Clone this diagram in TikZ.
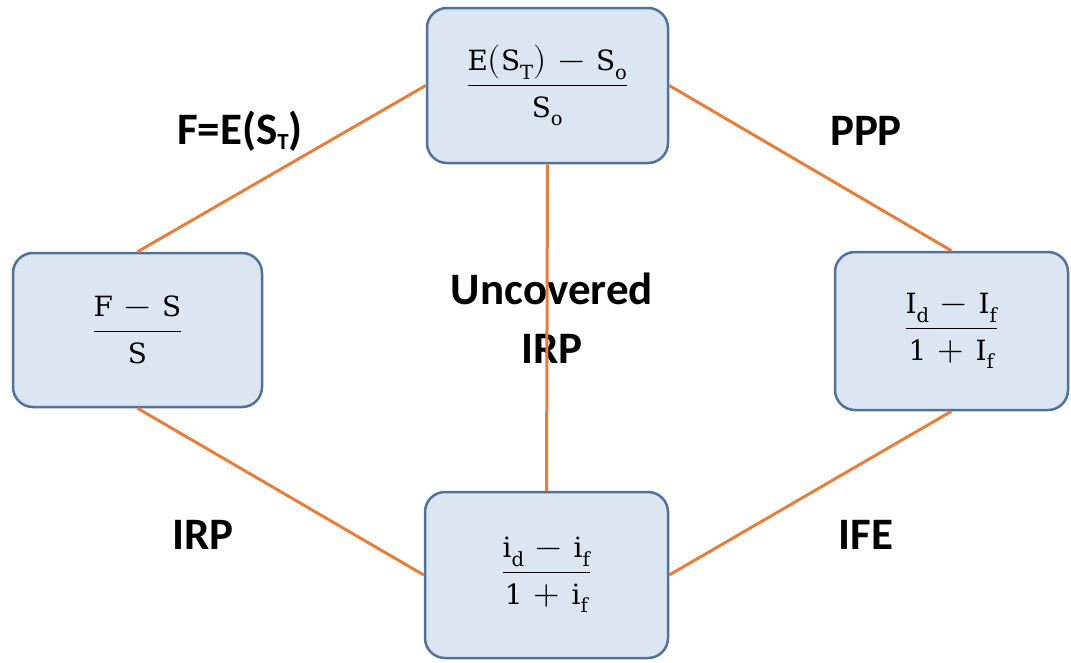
\documentclass[tikz,border=0pt]{standalone}
\usepackage{fontspec}
\usepackage{unicode-math}
\setmathfont{Latin Modern Math}
\setmathrm{DejaVu Serif}[Scale=0.82]
\newfontfamily\lab{Carlito}
\definecolor{boxfill}{HTML}{DCE6F2}
\definecolor{boxline}{HTML}{51729A}
\definecolor{link}{HTML}{E47F3C}
\newcommand\myfrac[2]{$\medmuskip=6mu\displaystyle\frac{\mathrm{#1}}{\mathrm{#2}}$}
\tikzset{
  mbox/.style={draw=boxline, fill=boxfill, line width=2.5pt, rounded corners=20pt, inner sep=0pt,
    font=\fontsize{34}{40}\selectfont},
  lbl/.style={font=\lab\bfseries\fontsize{45}{59}\selectfont, text=black, align=center, inner sep=0pt},
  conn/.style={draw=link, line width=3pt}
}
\begin{document}
\begin{tikzpicture}[x=1pt,y=-1pt]
\useasboundingbox (0,0) rectangle (1071,662);
\node[mbox, minimum width=241pt, minimum height=155pt] (top) at (547.5,85.5)
  {\myfrac{E(S_T)-S_o}{S_o}};
\node[mbox, minimum width=249pt, minimum height=154pt] (left) at (137.5,330)
  {\myfrac{F-S}{S}};
\node[mbox, minimum width=233pt, minimum height=158pt] (right) at (951.5,331)
  {\myfrac{I_d-I_f}{1+I_f}};
\node[mbox, minimum width=243pt, minimum height=166pt] (bot) at (546.5,575)
  {\myfrac{i_d-i_f}{1+i_f}};
\node[lbl] (lf) at (240,131) {F=E(S\raisebox{-0.12em}{\fontsize{23}{25}\selectfont T})};
\node[lbl] (lp) at (866,131) {PPP};
\node[lbl] (lu) at (552,318) {Uncovered\\IRP};
\node[lbl] (li) at (203,535) {IRP};
\node[lbl] (le) at (866,535) {IFE};
\draw[conn] (top.west) -- (left.north);
\draw[conn] (top.east) -- (right.north);
\draw[conn] (left.south) -- (bot.west);
\draw[conn] (right.south) -- (bot.east);
\draw[conn] (top.south) -- (bot.north);
\end{tikzpicture}
\end{document}
